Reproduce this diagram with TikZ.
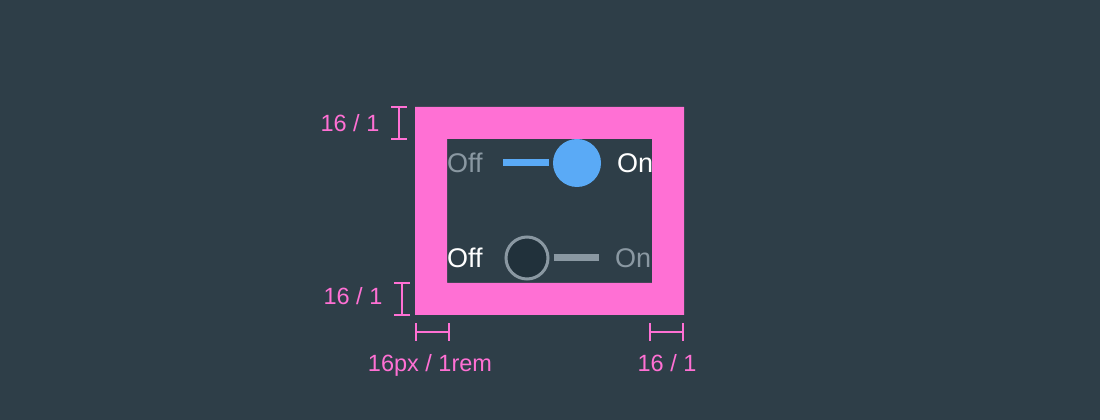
\documentclass[tikz,border=0pt]{standalone}
\usepackage{fontspec}
\setmainfont{Liberation Sans}
\usepackage{tikz}
\usetikzlibrary{positioning}
\definecolor{bgc}{HTML}{2E3E48}
\definecolor{pinkc}{HTML}{FF70D4}
\definecolor{bluec}{HTML}{5AAAF6}
\definecolor{grayc}{HTML}{8A98A2}
\definecolor{darkc}{HTML}{21313B}
\newlength{\px}
\setlength{\px}{1pt}

\begin{document}
\begin{tikzpicture}
    [   x=1\px, y=1\px,
        dim/.style   = {draw=pinkc, line width=1.6pt},
        dimtext/.style = {text=pinkc, anchor=base, inner sep=0pt,
                          font=\fontsize{23.5}{28}\selectfont},
        swtext/.style = {anchor=base west, inner sep=0pt,
                        font=\fontsize{27}{32}\selectfont},
        knob/.style  = {circle, inner sep=0pt},
        track/.style = {line width=7pt}
    ]
    % Background
    \fill[bgc] (0,0) rectangle (1100,420);
    \useasboundingbox (0,0) rectangle (1100,420);
    % Switch on
    \node[swtext, text=grayc] (offA) at (447,247) {Off};
    \node[knob, fill=bluec, minimum size=48\px] (knobA) at (577,257) {};
    \coordinate (trackA) at (503,257);
    \draw[track, bluec] (trackA) -- ([xshift=-4\px]knobA.west);
    \node[swtext, text=white] (onA) at (617,247) {On};
    % Switch off
    \node[swtext, text=white] (offB) at (447,152) {Off};
    \node[knob, fill=darkc, draw=grayc, line width=3pt, minimum size=42\px] (knobB) at (527,162) {};
    \coordinate (trackB) at (599,162);
    \draw[track, grayc] ([xshift=4\px]knobB.east) -- (trackB);
    \node[swtext, text=grayc] (onB) at (615,152) {On};
    % Padding frame
    \fill[pinkc, even odd rule] (415,105) rectangle (684,313)
                                (447,137) rectangle (652,281);
    % Dimensions
    % top
    \draw[dim] (399,281) -- (399,313);
        \draw[dim] (391,313) -- (407,313);
        \draw[dim] (391,281) -- (407,281);
    \node[dimtext] (dimtop) at (350,288) {16 / 1};
    % bottom
    \draw[dim] (402,105) -- (402,137);
        \draw[dim] (394,137) -- (410,137);
        \draw[dim] (394,105) -- (410,105);
    \node[dimtext] (dimbottom) at (353,115) {16 / 1};
    % left
    \draw[dim] (416,88) -- (449,88);
        \draw[dim] (416,79) -- (416,97);
        \draw[dim] (449,79) -- (449,97);
    \node[dimtext] (dimleft) at (430,48) {16px / 1rem};
    % right
    \draw[dim] (650,88) -- (683,88);
        \draw[dim] (650,79) -- (650,97);
        \draw[dim] (683,79) -- (683,97);
    \node[dimtext] (dimright) at (667,48) {16 / 1};
\end{tikzpicture}
\end{document}
